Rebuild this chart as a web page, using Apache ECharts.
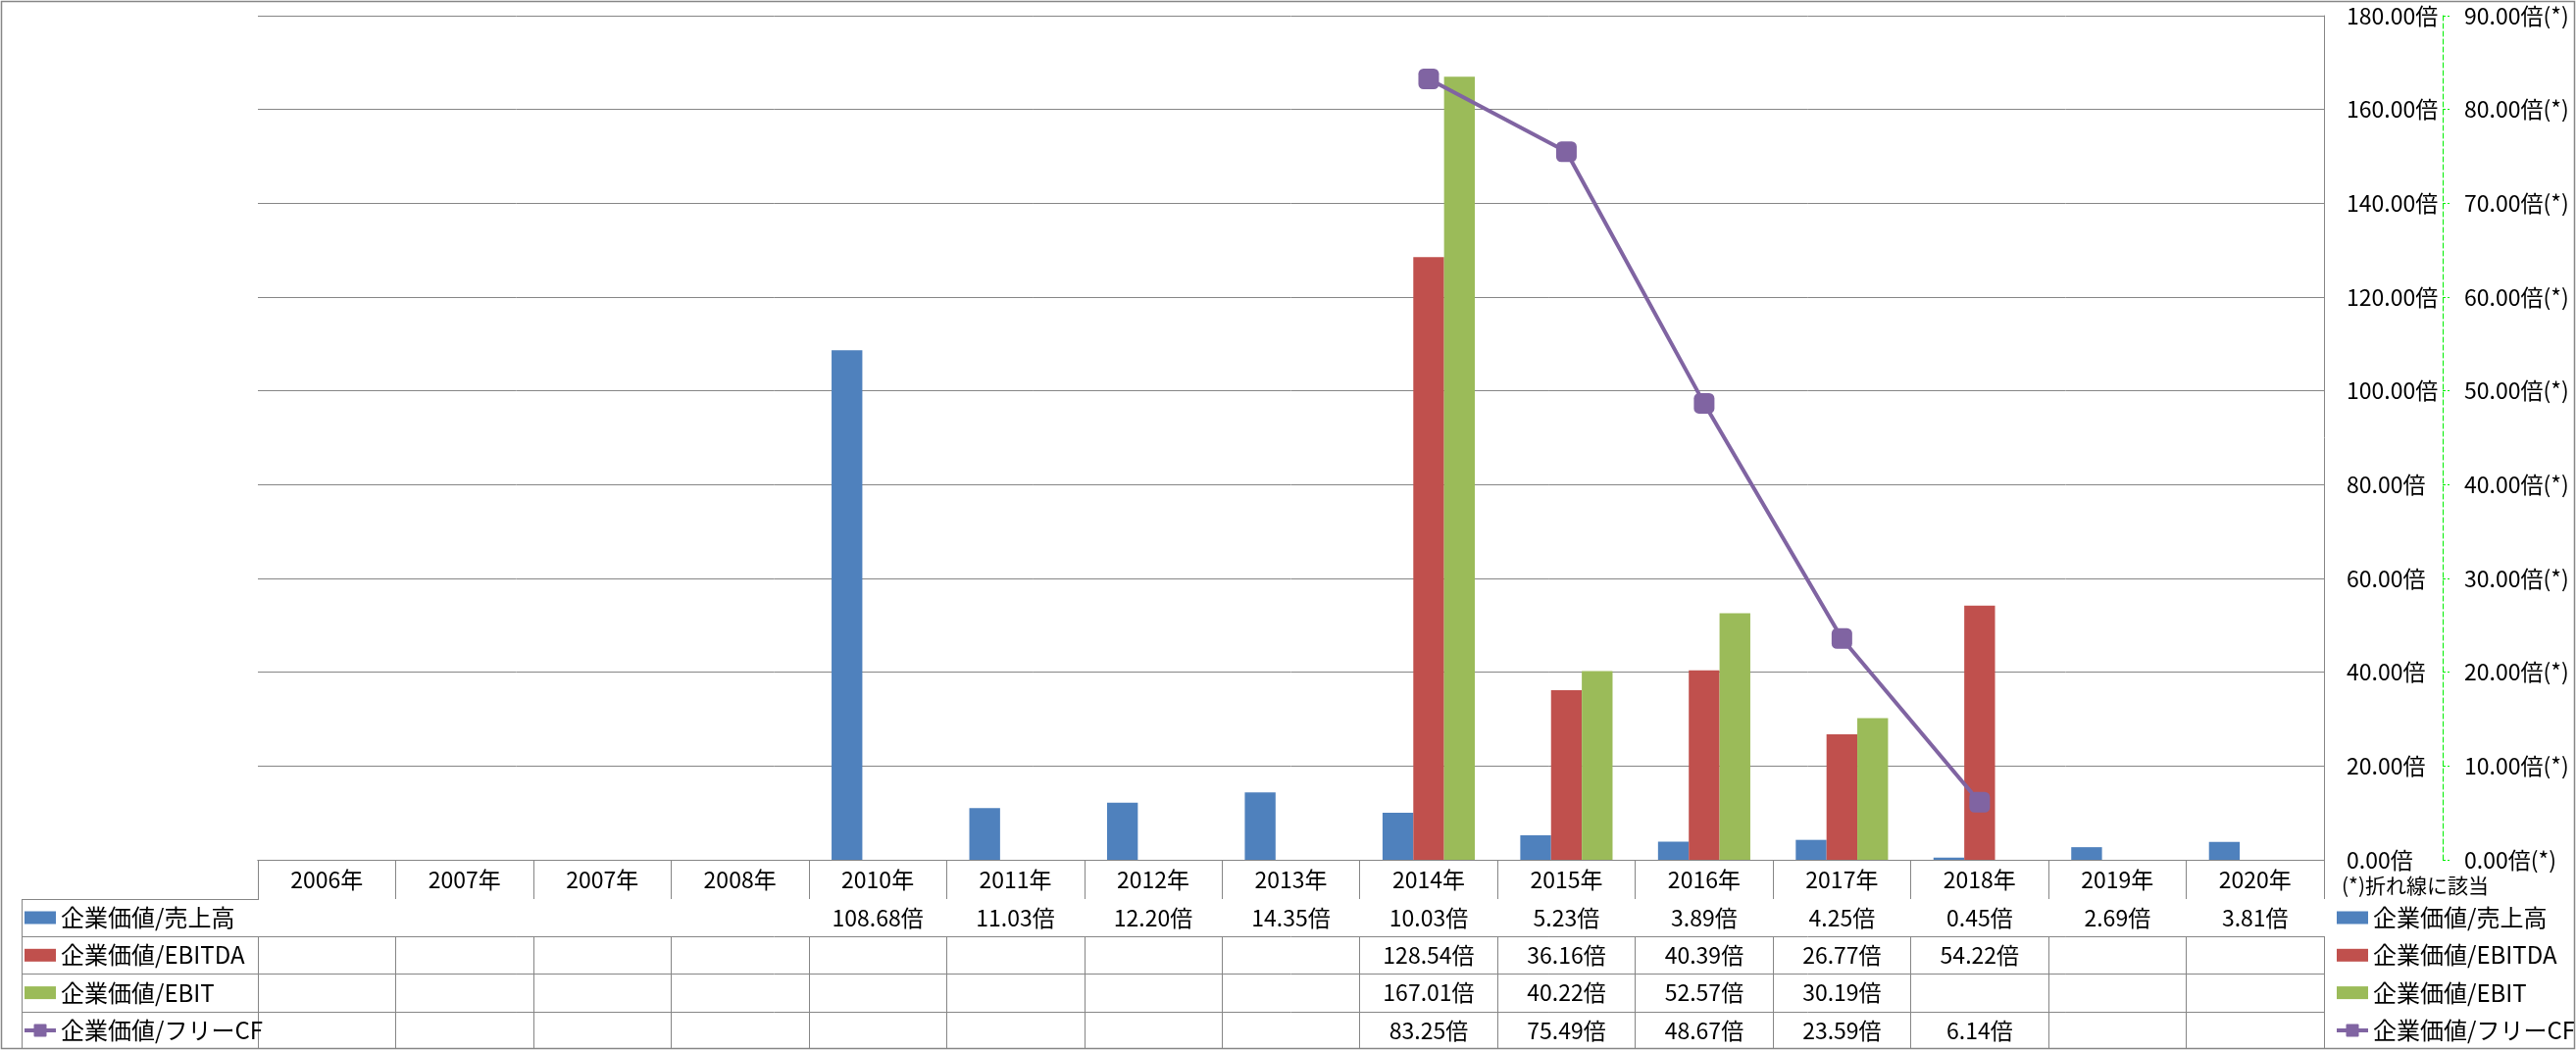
<!DOCTYPE html>
<html>
<head>
<meta charset="utf-8">
<style>
html,body{margin:0;padding:0;background:#fff;}
#chart{width:2627px;height:1071px;}
</style>
<script src="https://cdn.jsdelivr.net/npm/echarts@6/dist/echarts.min.js"></script>
</head>
<body>
<div id="chart"></div>
<script>
// ---- data ----
const categories = ['2006年','2007年','2007年','2008年','2010年','2011年','2012年','2013年','2014年','2015年','2016年','2017年','2018年','2019年','2020年'];
const seriesNames = ['企業価値/売上高','企業価値/EBITDA','企業価値/EBIT','企業価値/フリーCF'];
const salesMultiple  = [null,null,null,null,108.68,11.03,12.20,14.35,10.03,5.23,3.89,4.25,0.45,2.69,3.81];
const ebitdaMultiple = [null,null,null,null,null,null,null,null,128.54,36.16,40.39,26.77,54.22,null,null];
const ebitMultiple   = [null,null,null,null,null,null,null,null,167.01,40.22,52.57,30.19,null,null,null];
const fcfMultiple    = [null,null,null,null,null,null,null,null,83.25,75.49,48.67,23.59,6.14,null,null];
const leftAxisRange  = [0, 180, 20];
const rightAxisRange = [0, 90, 10];
const noteText = '(*)折れ線に該当';

// ---- styling ----
const FONT = '"Noto Sans CJK JP", "Noto Sans", sans-serif';
const GRID_COLOR = '#868686';
const colors = ['#4F81BD','#C0504D','#9BBB59','#8064A2'];
const fmt = v => (v == null ? '' : v.toFixed(2) + '倍');
const LINE_ICON = 'path://M0,4.5 H9.5 V1 Q9.5,0 10.5,0 H21.5 Q22.5,0 22.5,1 V4.5 H32 V8.5 H22.5 V12 Q22.5,13 21.5,13 H10.5 Q9.5,13 9.5,12 V8.5 H0 Z';

const rows = [salesMultiple, ebitdaMultiple, ebitMultiple, fcfMultiple];
const rowOffsets = [40, 78, 116, 155];
const rowHeights = [38, 38, 39, 38];

const xAxes = [{
  type: 'category', data: categories, position: 'bottom', gridIndex: 0,
  axisLine: {show: true, lineStyle: {color: GRID_COLOR, width: 1}},
  axisTick: {show: true, interval: 0, length: 40, lineStyle: {color: GRID_COLOR, width: 1}},
  axisLabel: {interval: 0, margin: 9, fontSize: 23, lineHeight: 23, color: '#000', fontFamily: FONT},
  splitLine: {show: false}
}];
rows.forEach((arr, i) => {
  xAxes.push({
    type: 'category', data: arr.map(fmt), position: 'bottom', gridIndex: 0, offset: rowOffsets[i],
    axisLine: {show: true, lineStyle: {color: GRID_COLOR, width: 1}},
    axisTick: {show: true, interval: 0, length: rowHeights[i], lineStyle: {color: GRID_COLOR, width: 1}},
    axisLabel: {interval: 0, margin: 8, fontSize: 23, lineHeight: 23, color: '#000', fontFamily: FONT},
    splitLine: {show: false}
  });
});

const legendData = seriesNames.map((n, i) => (i === 3 ? {name: n, icon: LINE_ICON} : {name: n, icon: 'rect'}));
const legendBase = {
  data: legendData, orient: 'vertical', top: 924, itemWidth: 32, itemHeight: 13, itemGap: 14.3,
  padding: 0, selectedMode: false,
  textStyle: {fontSize: 24, lineHeight: 24, color: '#000', fontFamily: FONT}
};

const chart = echarts.init(document.getElementById('chart'), null, {renderer: 'canvas'});
chart.setOption({
  animation: false,
  backgroundColor: '#fff',
  textStyle: {fontFamily: FONT},
  color: colors,
  grid: {left: 263, right: 257, top: 16, bottom: 194, containLabel: false, outerBoundsMode: 'none'},
  title: {text: noteText, left: 2388, top: 893, padding: 0,
    textStyle: {fontSize: 21, fontWeight: 'normal', color: '#000', fontFamily: FONT}},
  legend: [
    Object.assign({}, legendBase, {left: 25}),
    Object.assign({}, legendBase, {left: 2383})
  ],
  xAxis: xAxes,
  yAxis: [{
    type: 'value', position: 'right', min: leftAxisRange[0], max: leftAxisRange[1], interval: leftAxisRange[2],
    axisLine: {show: true, lineStyle: {color: GRID_COLOR, width: 1}},
    axisTick: {show: false},
    axisLabel: {margin: 23, fontSize: 23, color: '#000', fontFamily: FONT, formatter: v => v.toFixed(2) + '倍'},
    splitLine: {show: true, lineStyle: {color: GRID_COLOR, width: 1}}
  }, {
    type: 'value', position: 'right', offset: 121, min: rightAxisRange[0], max: rightAxisRange[1], interval: rightAxisRange[2],
    axisLine: {show: true, lineStyle: {color: '#00EE00', width: 1, type: [5, 3]}},
    axisTick: {show: true, inside: false, length: 7, lineStyle: {color: '#00EE00', width: 1, type: [3, 2]}},
    axisLabel: {margin: 22, fontSize: 23, color: '#000', fontFamily: FONT, formatter: v => v.toFixed(2) + '倍(*)'},
    splitLine: {show: false}
  }],
  series: [
    {name: seriesNames[0], type: 'bar', data: salesMultiple, barGap: '0%', barCategoryGap: '33%', itemStyle: {color: colors[0]}},
    {name: seriesNames[1], type: 'bar', data: ebitdaMultiple, barGap: '0%', barCategoryGap: '33%', itemStyle: {color: colors[1]}},
    {name: seriesNames[2], type: 'bar', data: ebitMultiple, barGap: '0%', barCategoryGap: '33%', itemStyle: {color: colors[2]}},
    {name: seriesNames[3], type: 'line', yAxisIndex: 1, data: fcfMultiple, z: 5,
      symbol: 'roundRect', symbolSize: 21, showAllSymbol: true,
      lineStyle: {color: colors[3], width: 4}, itemStyle: {color: colors[3]}}
  ],
  graphic: [
    {type: 'rect', silent: true, z: 100, shape: {x: 1.5, y: 1.5, width: 2624, height: 1068},
      style: {fill: 'none', stroke: GRID_COLOR, lineWidth: 1.5}},
    {type: 'line', silent: true, shape: {x1: 22.5, y1: 917, x2: 22.5, y2: 1070}, style: {stroke: GRID_COLOR, lineWidth: 1}},
    {type: 'line', silent: true, shape: {x1: 22, y1: 917.5, x2: 264, y2: 917.5}, style: {stroke: GRID_COLOR, lineWidth: 1}},
    {type: 'line', silent: true, shape: {x1: 22, y1: 955.5, x2: 264, y2: 955.5}, style: {stroke: GRID_COLOR, lineWidth: 1}},
    {type: 'line', silent: true, shape: {x1: 22, y1: 993.5, x2: 264, y2: 993.5}, style: {stroke: GRID_COLOR, lineWidth: 1}},
    {type: 'line', silent: true, shape: {x1: 22, y1: 1032.5, x2: 264, y2: 1032.5}, style: {stroke: GRID_COLOR, lineWidth: 1}}
  ]
});
</script>
</body>
</html>
